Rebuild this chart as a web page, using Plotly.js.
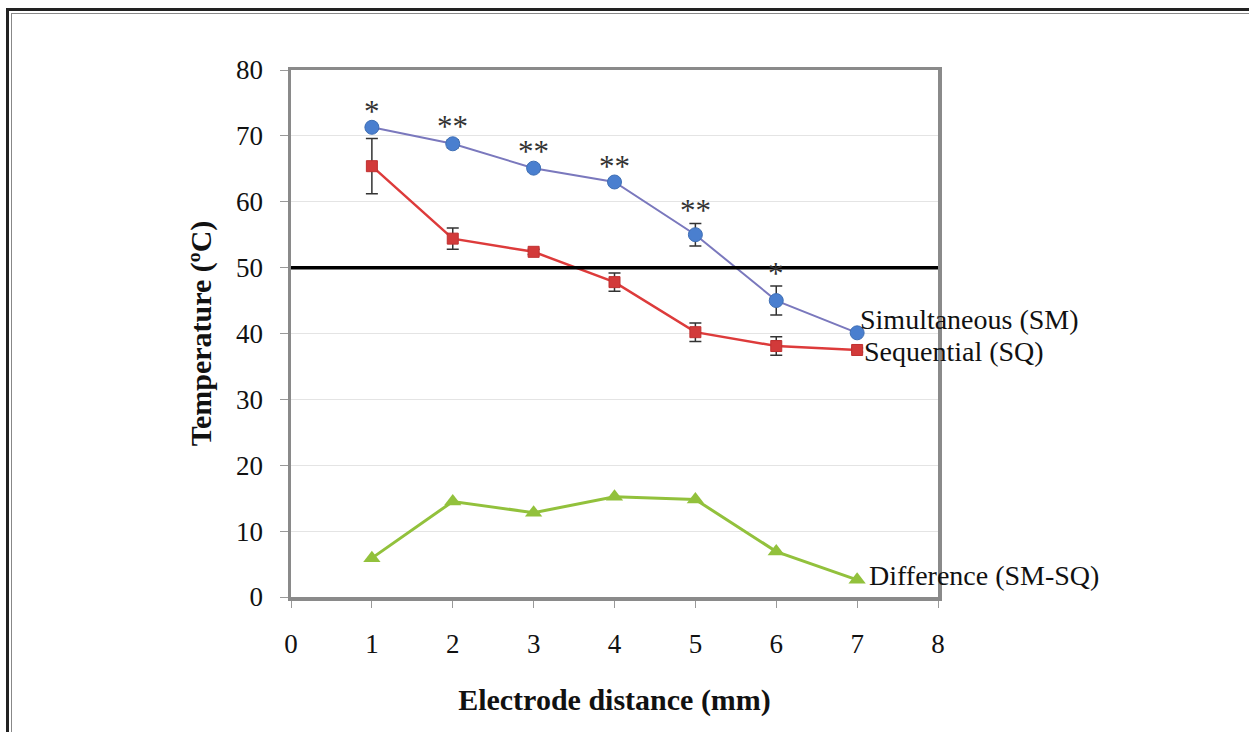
<!DOCTYPE html>
<html>
<head>
<meta charset="utf-8">
<script src="https://cdn.plot.ly/plotly-3.0.1.min.js"></script>
<style>
html,body{margin:0;padding:0;background:#fff;overflow:hidden;}
#chart{width:1249px;height:732px;position:absolute;left:0;top:0;}
#frame1{position:absolute;left:6px;top:8px;width:3000px;height:3000px;border-left:3.5px solid #222;border-top:3.5px solid #222;pointer-events:none;}
#frame2{position:absolute;left:11px;top:13px;width:3000px;height:3000px;border-left:1px solid #888;border-top:1px solid #888;pointer-events:none;}
</style>
</head>
<body>
<div id="chart"></div>
<div id="frame1"></div>
<div id="frame2"></div>
<script>
// Data
const distance = [1, 2, 3, 4, 5, 6, 7];
const simultaneous = [71.3, 68.8, 65.1, 63.0, 55.0, 45.0, 40.1];
const simultaneousErr = [0.4, 0.6, 0.5, 0.4, 1.7, 2.2, 0.3];
const sequential = [65.4, 54.4, 52.4, 47.8, 40.2, 38.1, 37.5];
const sequentialErr = [4.2, 1.6, 0.4, 1.4, 1.4, 1.4, 0.3];
const difference = [5.9, 14.5, 12.8, 15.2, 14.8, 6.9, 2.6];
const significance = ["*", "**", "**", "**", "**", "*", ""];
const threshold = 50;
const seriesNames = ["Simultaneous (SM)", "Sequential (SQ)", "Difference (SM-SQ)"];
const xTicks = [0, 1, 2, 3, 4, 5, 6, 7, 8];
const yTicks = [0, 10, 20, 30, 40, 50, 60, 70, 80];

const serif = "Liberation Serif, Times New Roman, serif";

const traces = [
  {
    x: distance, y: simultaneous, name: seriesNames[0], mode: "lines+markers",
    line: {color: "#7a78bd", width: 2},
    marker: {symbol: "circle", size: 14, color: "#4a7fcf", line: {color: "#3f6fb5", width: 1}},
    error_y: {type: "data", array: simultaneousErr, visible: true, color: "#333", thickness: 1.5, width: 6}
  },
  {
    x: distance, y: sequential, name: seriesNames[1], mode: "lines+markers",
    line: {color: "#dd3b3b", width: 2.5},
    marker: {symbol: "square", size: 11, color: "#d23a3a", line: {color: "#c03030", width: 1}},
    error_y: {type: "data", array: sequentialErr, visible: true, color: "#333", thickness: 1.5, width: 6}
  },
  {
    x: distance, y: difference, name: seriesNames[2], mode: "lines+markers",
    line: {color: "#92c13c", width: 3},
    marker: {symbol: "triangle-up", size: 15, color: "#92c13c"}
  }
];

const annotations = [];
distance.forEach((d, i) => {
  if (significance[i]) {
    annotations.push({
      x: d, y: simultaneous[i] + simultaneousErr[i], xref: "x", yref: "y",
      text: significance[i], showarrow: false, yanchor: "middle", yshift: 13,
      font: {family: serif, size: 31, color: "#333"}
    });
  }
});
const last = distance.length - 1;
const seriesEnds = [simultaneous[last], sequential[last], difference[last]];
const labelShiftY = [13, -2, 4];
const labelShiftX = [2, 6, 11];
seriesNames.forEach((n, i) => {
  annotations.push({
    x: distance[last], y: seriesEnds[i], xref: "x", yref: "y",
    text: n, showarrow: false, xanchor: "left", yanchor: "middle",
    xshift: labelShiftX[i], yshift: labelShiftY[i], borderpad: 0,
    font: {family: serif, size: 28, color: "#111"}
  });
});

const layout = {
  width: 1249, height: 732,
  margin: {l: 291, r: 311, t: 70, b: 135},
  paper_bgcolor: "#fff", plot_bgcolor: "#fff",
  showlegend: false,
  font: {family: serif, color: "#111"},
  xaxis: {
    range: [0, 8], tickvals: xTicks, ticktext: xTicks.map(String),
    showgrid: false, zeroline: false,
    showline: true, mirror: true, linecolor: "#8a8a8a", linewidth: 3.5,
    ticks: "outside", ticklen: 7, tickcolor: "#999", tickwidth: 1,
    ticklabelstandoff: 13,
    tickfont: {family: serif, size: 27, color: "#111"},
    title: {text: "<b>Electrode distance (mm)</b>", standoff: 32, font: {family: serif, size: 30, color: "#111"}}
  },
  yaxis: {
    range: [0, 80], tickvals: yTicks, ticktext: yTicks.map(String),
    showgrid: true, gridcolor: "#e4e4e4", gridwidth: 1, zeroline: false,
    showline: true, mirror: true, linecolor: "#8a8a8a", linewidth: 3.5,
    ticks: "outside", ticklen: 8, tickcolor: "#999", tickwidth: 1,
    ticklabelstandoff: 11,
    tickfont: {family: serif, size: 27, color: "#111"},
    title: {text: "<b>Temperature (ºC)</b>", standoff: 16, font: {family: serif, size: 30, color: "#111"}}
  },
  shapes: [{
    type: "line", xref: "paper", yref: "y", x0: 0, x1: 1, y0: threshold, y1: threshold,
    line: {color: "#000", width: 3.5}
  }],
  annotations: annotations
};

Plotly.newPlot("chart", traces, layout, {displayModeBar: false, staticPlot: true});
</script>
</body>
</html>
